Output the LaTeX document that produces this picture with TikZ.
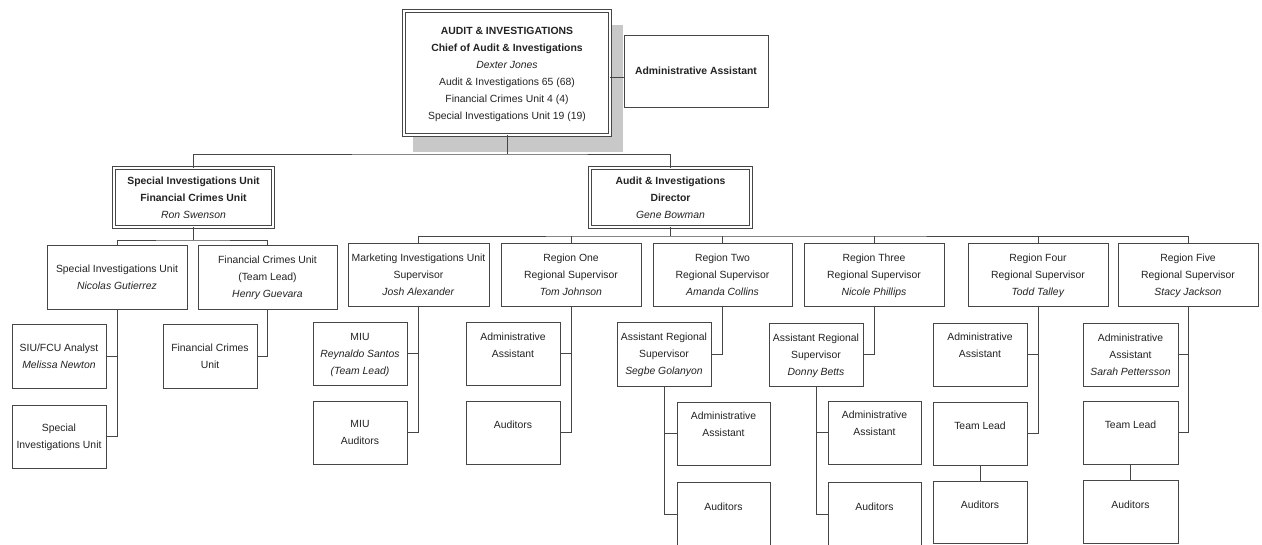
\documentclass[tikz,border=0pt]{standalone}
\usepackage{fontspec}
\setmainfont{Liberation Sans}
\definecolor{linec}{RGB}{70,70,70}
\definecolor{textc}{RGB}{35,35,35}
\definecolor{shadowc}{RGB}{200,200,200}

\tikzset{
  plainbox/.style={draw=linec, line width=0.9pt, fill=white, rectangle, inner sep=0pt, outer sep=0pt},
  dblbox/.style={draw=linec, line width=0.9pt, double=white, double distance=2.2pt, fill=white, rectangle, inner sep=0pt, outer sep=0pt},
  txt/.style={align=center, inner sep=0pt, text=textc, font=\fontsize{10.4}{17}\selectfont,
              execute at begin node=\strut, execute at end node=\strut},
  conn/.style={draw=linec, line width=0.9pt},
}

% \orgbox[style]{name}{x1}{y1}{x2}{y2}{text}{text lift}
\newcommand{\orgbox}[8][plainbox]{%
  \node[#1, minimum width={#5-#3}, minimum height={#6-#4}] (#2) at ({(#3+#5)/2},{(#4+#6)/2}) {};
  \node[txt] (#2-t) at ([yshift=#8-2.5pt]#2.center) {#7};}

\begin{document}
\begin{tikzpicture}[x=1pt,y=-1pt]
\useasboundingbox (0,0) rectangle (1262,544);
\fill[white] (0,0) rectangle (1262,544);
\clip (0,0) rectangle (1262,544);

% shadow behind the chief's box
\fill[shadowc] (413,25) rectangle (623,152);

% bus coordinates
\coordinate (b1) at (507,154);
\coordinate (b2) at (193.5,240);
\coordinate (b3) at (670.5,236);

% chief and assistant
\orgbox[dblbox]{top}{404}{11}{610}{135}{\textbf{AUDIT \& INVESTIGATIONS}\\\textbf{Chief of Audit \& Investigations}\\\textit{Dexter Jones}\\Audit \& Investigations 65 (68)\\Financial Crimes Unit 4 (4)\\Special Investigations Unit 19 (19)}{-0.5pt}
\orgbox{adm}{624}{35}{768}{107}{\textbf{Administrative Assistant}}{2pt}

% second level
\orgbox[dblbox]{siu}{114}{168}{273}{227}{\textbf{Special Investigations Unit}\\\textbf{Financial Crimes Unit}\\\textit{Ron Swenson}}{0pt}
\orgbox[dblbox]{dir}{590}{168}{751}{227}{\textbf{Audit \& Investigations}\\\textbf{Director}\\\textit{Gene Bowman}}{0pt}

% special investigations / financial crimes branch
\orgbox{sng}{47}{245}{187}{309}{Special Investigations Unit\\\textit{Nicolas Gutierrez}}{0pt}
\orgbox{fhg}{198}{245}{337}{309}{Financial Crimes Unit\\(Team Lead)\\\textit{Henry Guevara}}{0pt}
\orgbox{ana}{12}{324}{106}{388}{SIU/FCU Analyst\\\textit{Melissa Newton}}{0pt}
\orgbox{siuu}{12}{405}{106}{468}{Special\\Investigations Unit}{0pt}
\orgbox{fcb}{163}{324}{257}{388}{Financial Crimes\\Unit}{0pt}

% director's branch, third level
\orgbox{miu}{348}{243}{489}{306}{Marketing Investigations Unit\\Supervisor\\\textit{Josh Alexander}}{0pt}
\orgbox{r1}{501}{243}{641}{306}{Region One\\Regional Supervisor\\\textit{Tom Johnson}}{0pt}
\orgbox{r2}{653}{243}{792}{306}{Region Two\\Regional Supervisor\\\textit{Amanda Collins}}{0pt}
\orgbox{r3}{804}{243}{944}{306}{Region Three\\Regional Supervisor\\\textit{Nicole Phillips}}{0pt}
\orgbox{r4}{968}{243}{1108}{306}{Region Four\\Regional Supervisor\\\textit{Todd Talley}}{0pt}
\orgbox{r5}{1118}{243}{1258}{306}{Region Five\\Regional Supervisor\\\textit{Stacy Jackson}}{0pt}

% marketing investigations unit
\orgbox{miua}{313}{322}{407}{385}{MIU\\\textit{Reynaldo Santos}\\\textit{(Team Lead)}}{0pt}
\orgbox{miub}{313}{401}{407}{464}{MIU\\Auditors}{0pt}

% region one
\orgbox{r1a}{466}{322}{560}{385}{Administrative\\Assistant}{8.5pt}
\orgbox{r1b}{466}{401}{560}{464}{Auditors}{9.5pt}

% region two
\orgbox{r2s}{617}{322}{711}{386}{Assistant Regional\\Supervisor\\\textit{Segbe Golanyon}}{0pt}
\orgbox{r2a}{677}{402}{770}{465}{Administrative\\Assistant}{9pt}
\orgbox{r2b}{677}{482}{770}{546}{Auditors}{9pt}

% region three
\orgbox{r3s}{769}{323}{863}{386}{Assistant Regional\\Supervisor\\\textit{Donny Betts}}{0pt}
\orgbox{r3a}{828}{401}{921}{464}{Administrative\\Assistant}{9pt}
\orgbox{r3b}{828}{482}{921}{546}{Auditors}{9pt}

% region four
\orgbox{r4a}{933}{323}{1027}{386}{Administrative\\Assistant}{9pt}
\orgbox{r4t}{933}{402}{1027}{465}{Team Lead}{9.5pt}
\orgbox{r4b}{933}{481}{1027}{543}{Auditors}{9pt}

% region five
\orgbox{r5a}{1083}{323}{1178}{386}{Administrative\\Assistant\\\textit{Sarah Pettersson}}{0pt}
\orgbox{r5t}{1083}{401}{1178}{464}{Team Lead}{9.5pt}
\orgbox{r5b}{1083}{480}{1178}{543}{Auditors}{9pt}

% connectors
\draw[conn] ([yshift=-4pt]top.east) -- ([yshift=-4pt]top.east -| adm.west);
\draw[conn] (top.south) -- (b1);
\draw[conn] (siu.north) |- (b1) -| (dir.north);

\draw[conn] (siu.south) -- (b2);
\draw[conn] (sng.north) |- (b2) -| (fhg.north);
\draw[conn] (sng.south) |- (ana.east);
\draw[conn] (sng.south) |- (siuu.east);
\draw[conn] (fhg.south) |- (fcb.east);

\draw[conn] (dir.south) -- (b3);
\draw[conn] (miu.north) |- (b3) -| (r5.north);
\draw[conn] (r1.north) -- (r1.north |- b3);
\draw[conn] (r2.north) -- (r2.north |- b3);
\draw[conn] (r3.north) -- (r3.north |- b3);
\draw[conn] (r4.north) -- (r4.north |- b3);

\draw[conn] (miu.south) |- (miua.east);
\draw[conn] (miu.south) |- (miub.east);

\draw[conn] (r1.south) |- (r1a.east);
\draw[conn] (r1.south) |- (r1b.east);

\draw[conn] (r2.south) |- (r2s.east);
\draw[conn] (r2s.south) |- (r2a.west);
\draw[conn] (r2s.south) |- (r2b.west);

\draw[conn] (r3.south) |- (r3s.east);
\draw[conn] (r3s.south) |- (r3a.west);
\draw[conn] (r3s.south) |- (r3b.west);

\draw[conn] (r4.south) |- (r4a.east);
\draw[conn] (r4.south) |- (r4t.east);
\draw[conn] (r4t.south) -- (r4b.north);

\draw[conn] (r5.south) |- (r5a.east);
\draw[conn] (r5.south) |- (r5t.east);
\draw[conn] (r5t.south) -- (r5b.north);
\end{tikzpicture}
\end{document}
